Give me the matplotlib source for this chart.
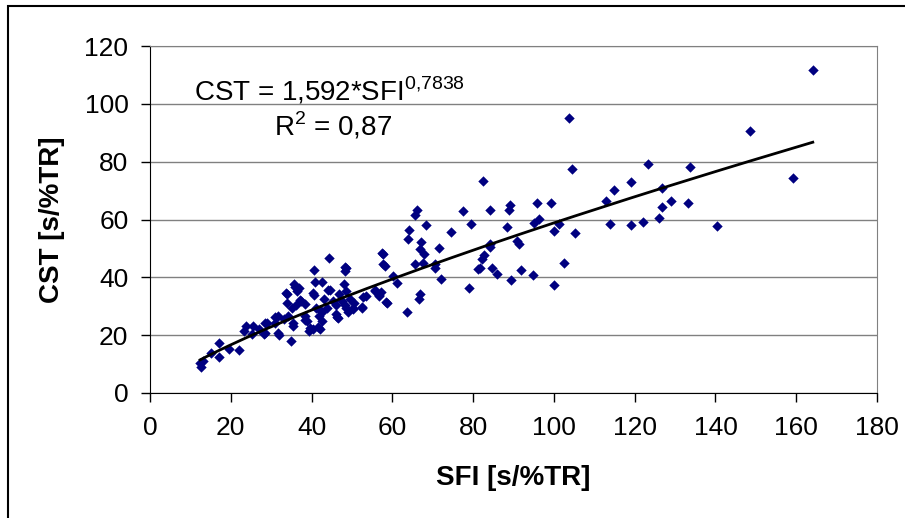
import matplotlib
matplotlib.use("Agg")
import matplotlib.pyplot as plt
import numpy as np
from matplotlib.patches import Rectangle

plt.rcParams['font.family'] = ['Liberation Sans', 'DejaVu Sans']
plt.rcParams['mathtext.fontset'] = 'custom'
plt.rcParams['mathtext.rm'] = 'Liberation Sans'

# valores (SFI, CST)
sfi = [164.1, 103.8, 148.6, 159.3, 104.4, 82.4, 123.4, 133.7, 119.1, 114.9,
       126.8, 112.9, 128.9, 133.3, 126.8, 126.0, 140.4, 113.8, 119.0, 122.0,
       105.2, 100.1, 101.2, 99.2, 95.8, 96.4, 95.1, 89.2, 88.9, 84.2,
       77.5, 79.4, 88.5, 74.6, 66.1, 65.6, 64.2, 63.8, 68.3, 67.2,
       66.8, 67.9, 67.5, 65.5, 71.6, 70.6, 70.6, 72.0, 66.9, 66.6,
       63.6, 82.6, 82.2, 84.3, 84.1, 90.8, 91.4, 81.2, 81.8, 84.8,
       85.8, 91.8, 89.5, 78.9, 94.9, 100.1, 102.4, 57.8, 58.1, 60.2,
       61.2, 58.8, 57.2, 56.6, 55.8, 53.5, 52.6, 50.6, 50.3, 48.6,
       48.3, 44.3, 40.6, 40.9, 42.7, 48.0, 48.5, 44.6, 46.7, 40.5,
       43.2, 45.2, 47.5, 49.6, 37.5, 35.7, 36.9, 36.3, 33.9, 33.9,
       36.1, 38.5, 41.0, 43.9, 46.0, 48.6, 48.9, 46.0, 46.5, 42.5,
       41.8, 38.5, 38.8, 42.5, 39.3, 40.3, 42.0, 35.3, 35.0, 34.2,
       31.7, 33.2, 31.0, 32.0, 28.9, 28.2, 27.0, 25.5, 23.7, 25.2,
       23.2, 22.0, 19.6, 17.0, 17.0, 15.0, 13.2, 12.4, 12.7, 57.4,
       57.6, 48.3, 35.9, 33.7, 40.4, 44.1, 52.8, 55.7, 56.8, 58.4,
       52.4, 50.3, 46.2, 37.1, 35.1, 38.4, 39.6, 41.7, 30.9, 31.8,
       28.5, 28.5, 35.5, 42.1, 48.3]
cst = [111.6, 95.0, 90.5, 74.5, 77.6, 73.3, 79.2, 78.0, 73.1, 70.3,
       70.8, 66.4, 66.3, 65.6, 64.4, 60.4, 57.9, 58.3, 58.0, 59.0,
       55.2, 55.9, 58.3, 65.6, 65.7, 60.2, 58.9, 65.0, 63.2, 63.4,
       63.1, 58.6, 57.3, 55.8, 63.2, 61.6, 56.4, 53.3, 58.0, 52.3,
       49.7, 48.0, 45.0, 44.5, 50.1, 44.5, 43.3, 39.3, 34.1, 32.6,
       28.0, 47.6, 46.2, 50.5, 51.4, 52.6, 51.4, 43.0, 43.3, 43.3,
       41.3, 42.7, 39.2, 36.2, 40.8, 37.2, 44.8, 48.2, 43.9, 40.5,
       38.0, 31.1, 34.9, 33.5, 35.3, 33.7, 29.5, 31.1, 28.9, 43.3,
       42.2, 46.6, 42.7, 38.4, 38.4, 37.8, 35.3, 35.5, 34.1, 33.8,
       32.6, 31.8, 31.8, 32.4, 31.8, 37.6, 36.4, 35.3, 34.1, 31.0,
       30.4, 30.7, 29.5, 29.5, 30.4, 29.3, 28.1, 27.2, 25.8, 28.0,
       26.6, 26.6, 24.9, 24.9, 21.4, 22.0, 22.2, 23.2, 18.0, 26.6,
       26.6, 25.5, 24.3, 19.9, 24.3, 20.3, 22.0, 23.2, 23.2, 20.3,
       21.4, 14.9, 15.1, 17.2, 12.4, 13.9, 11.1, 10.5, 9.1, 48.5,
       44.5, 43.6, 36.8, 34.7, 34.5, 35.6, 33.3, 35.6, 33.9, 31.6,
       29.8, 29.3, 26.2, 32.2, 29.3, 25.2, 22.4, 22.7, 26.2, 20.6,
       24.1, 20.6, 24.1, 28.7, 30.4]

# ajuste potencia (do Excel)
coef_a = 1.592
coef_b = 0.7838

fig = plt.figure(figsize=(9.05, 5.18), dpi=100)
ax = fig.add_axes([150/905, 1 - 393/518, 727/905, 347/518])

ax.scatter(sfi, cst, marker='D', s=28, color='#000080', linewidths=0, zorder=3)

xs = np.sort(np.array(sfi))
ax.plot(xs, coef_a * xs ** coef_b, color='black', linewidth=2, zorder=4)

ax.set_xlim(0, 180)
ax.set_ylim(0, 120)
ax.set_xticks(np.arange(0, 181, 20))
ax.set_yticks(np.arange(0, 121, 20))
ax.yaxis.grid(True, color='#808080', linewidth=1)
ax.set_axisbelow(True)

for lado in ['top', 'right']:
    ax.spines[lado].set_color('#808080')
for lado in ['left', 'bottom']:
    ax.spines[lado].set_color('black')

ax.tick_params(direction='out', length=6.5, width=1, labelsize=19)
ax.tick_params(axis='x', pad=10)
ax.tick_params(axis='y', pad=9)

ax.set_xlabel('SFI [s/%TR]', fontsize=20, fontweight='bold', labelpad=18)
ax.set_ylabel('CST [s/%TR]', fontsize=20, fontweight='bold', labelpad=14)

ax.text(0.06, 0.87, r'CST = 1,592*SFI$^{\mathrm{0{,}7838}}$', transform=ax.transAxes,
        fontsize=20, ha='left', va='center')
ax.text(0.17, 0.77, r'R$^{\mathrm{2}}$ = 0,87', transform=ax.transAxes,
        fontsize=20, ha='left', va='center')

# moldura externa
fig.patches.append(Rectangle((8/905, -0.1), 1.2, 1 - 6/518 + 0.1, transform=fig.transFigure,
                             fill=False, edgecolor='black', linewidth=1.5))

fig.savefig('out.png', dpi=100)
